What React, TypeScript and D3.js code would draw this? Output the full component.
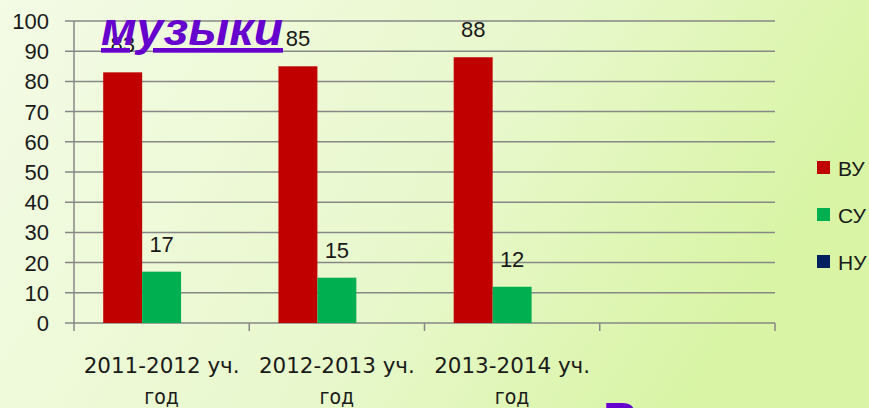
import React from 'react';
import * as d3 from 'd3';

// data
const categories = ['2011-2012 уч. год', '2012-2013 уч. год', '2013-2014 уч. год', ''];
const seriesNames = ['ВУ', 'СУ', 'НУ'];
const vuValues = [83, 85, 88];
const suValues = [17, 15, 12];
const nuValues: (number | null)[] = [null, null, null];
const seriesColors = ['#c00000', '#00b050', '#002060'];
const yTicks = [0, 10, 20, 30, 40, 50, 60, 70, 80, 90, 100];

const W = 869;
const H = 408;

export default function App() {
  const y = d3.scaleLinear().domain([0, 100]).range([323, 21]);
  const x0 = d3.scaleBand().domain(categories.map((c, i) => i + '')).range([74, 775]).padding(0);
  const x1 = d3
    .scaleBand()
    .domain(seriesNames)
    .range([0, x0.bandwidth()])
    .paddingInner(0)
    .paddingOuter(0.75);

  const allSeries = [vuValues, suValues, nuValues];
  const font = "'Liberation Sans', Arial, sans-serif";
  const narrow = "'Liberation Sans Narrow', 'DejaVu Sans Condensed', 'Liberation Sans', sans-serif";

  return (
    <svg width={W} height={H} style={{ position: 'absolute', left: 0, top: 0 }}>
      <defs>
        <linearGradient id="bg" x1="0" y1="0" x2="1" y2="0.3">
          <stop offset="0" stopColor="#f4fbe6" />
          <stop offset="0.6" stopColor="#e8f8cc" />
          <stop offset="1" stopColor="#d8f4a4" />
        </linearGradient>
      </defs>
      <rect width={W} height={H} fill="url(#bg)" />

      {/* grid + y ticks */}
      {yTicks.map(t => (
        <g key={t}>
          <line x1={65} x2={775} y1={y(t)} y2={y(t)} stroke="#878787" strokeWidth={1.5} />
          <text x={49} y={y(t) + 8} textAnchor="end" fontFamily={font} fontSize={22} fill="#1a1a1a">
            {t}
          </text>
        </g>
      ))}
      <line x1={74} x2={74} y1={y(100)} y2={y(0) + 8} stroke="#878787" strokeWidth={1.5} />
      {categories.map((c, i) => (
        <line
          key={'t' + i}
          x1={x0(i + '')! + x0.bandwidth()}
          x2={x0(i + '')! + x0.bandwidth()}
          y1={y(0)}
          y2={y(0) + 8}
          stroke="#878787"
          strokeWidth={1.5}
        />
      ))}

      {/* bars */}
      {allSeries.map((vals, s) =>
        vals.map((v, i) =>
          v == null ? null : (
            <rect
              key={s + '-' + i}
              x={x0(i + '')! + x1(seriesNames[s])!}
              y={y(v)}
              width={x1.bandwidth()}
              height={y(0) - y(v)}
              fill={seriesColors[s]}
            />
          )
        )
      )}

      {/* data labels */}
      {allSeries.map((vals, s) =>
        vals.map((v, i) =>
          v == null ? null : (
            <text
              key={'l' + s + '-' + i}
              x={x0(i + '')! + x1(seriesNames[s])! + x1.bandwidth() / 2}
              y={y(v) - 20}
              textAnchor="middle"
              fontFamily={font}
              fontSize={22}
              fill="#1a1a1a"
            >
              {v}
            </text>
          )
        )
      )}

      {/* category labels */}
      {categories.map((c, i) => {
        if (!c) return null;
        const cut = c.lastIndexOf(' ');
        const cx = x0(i + '')! + x0.bandwidth() / 2;
        return (
          <g key={'c' + i} fontFamily={narrow} fontSize={21} fill="#1a1a1a" textAnchor="middle">
            <text x={cx} y={373} textLength={156} lengthAdjust="spacingAndGlyphs">
              {c.slice(0, cut)}
            </text>
            <text x={cx} y={404}>{c.slice(cut + 1)}</text>
          </g>
        );
      })}

      {/* legend */}
      {seriesNames.map((n, i) => (
        <g key={n} transform={`translate(817,${168 + i * 47})`}>
          <rect x={0} y={-7} width={13} height={13} fill={seriesColors[i]} />
          <text x={21} y={7.5} fontFamily={font} fontSize={21} fill="#1a1a1a">
            {n}
          </text>
        </g>
      ))}

      {/* overlapping slide text */}
      <text
        x={101}
        y={45}
        fontFamily={font}
        fontWeight="bold"
        fontStyle="italic"
        fontSize={47}
        fill="#6600cc"
        textDecoration="underline"
        textLength={182}
        lengthAdjust="spacingAndGlyphs"
      >
        музыки
      </text>
      <text x={603} y={436} fontFamily={font} fontWeight="bold" fontSize={48} fill="#6600cc">
        В
      </text>
    </svg>
  );
}
